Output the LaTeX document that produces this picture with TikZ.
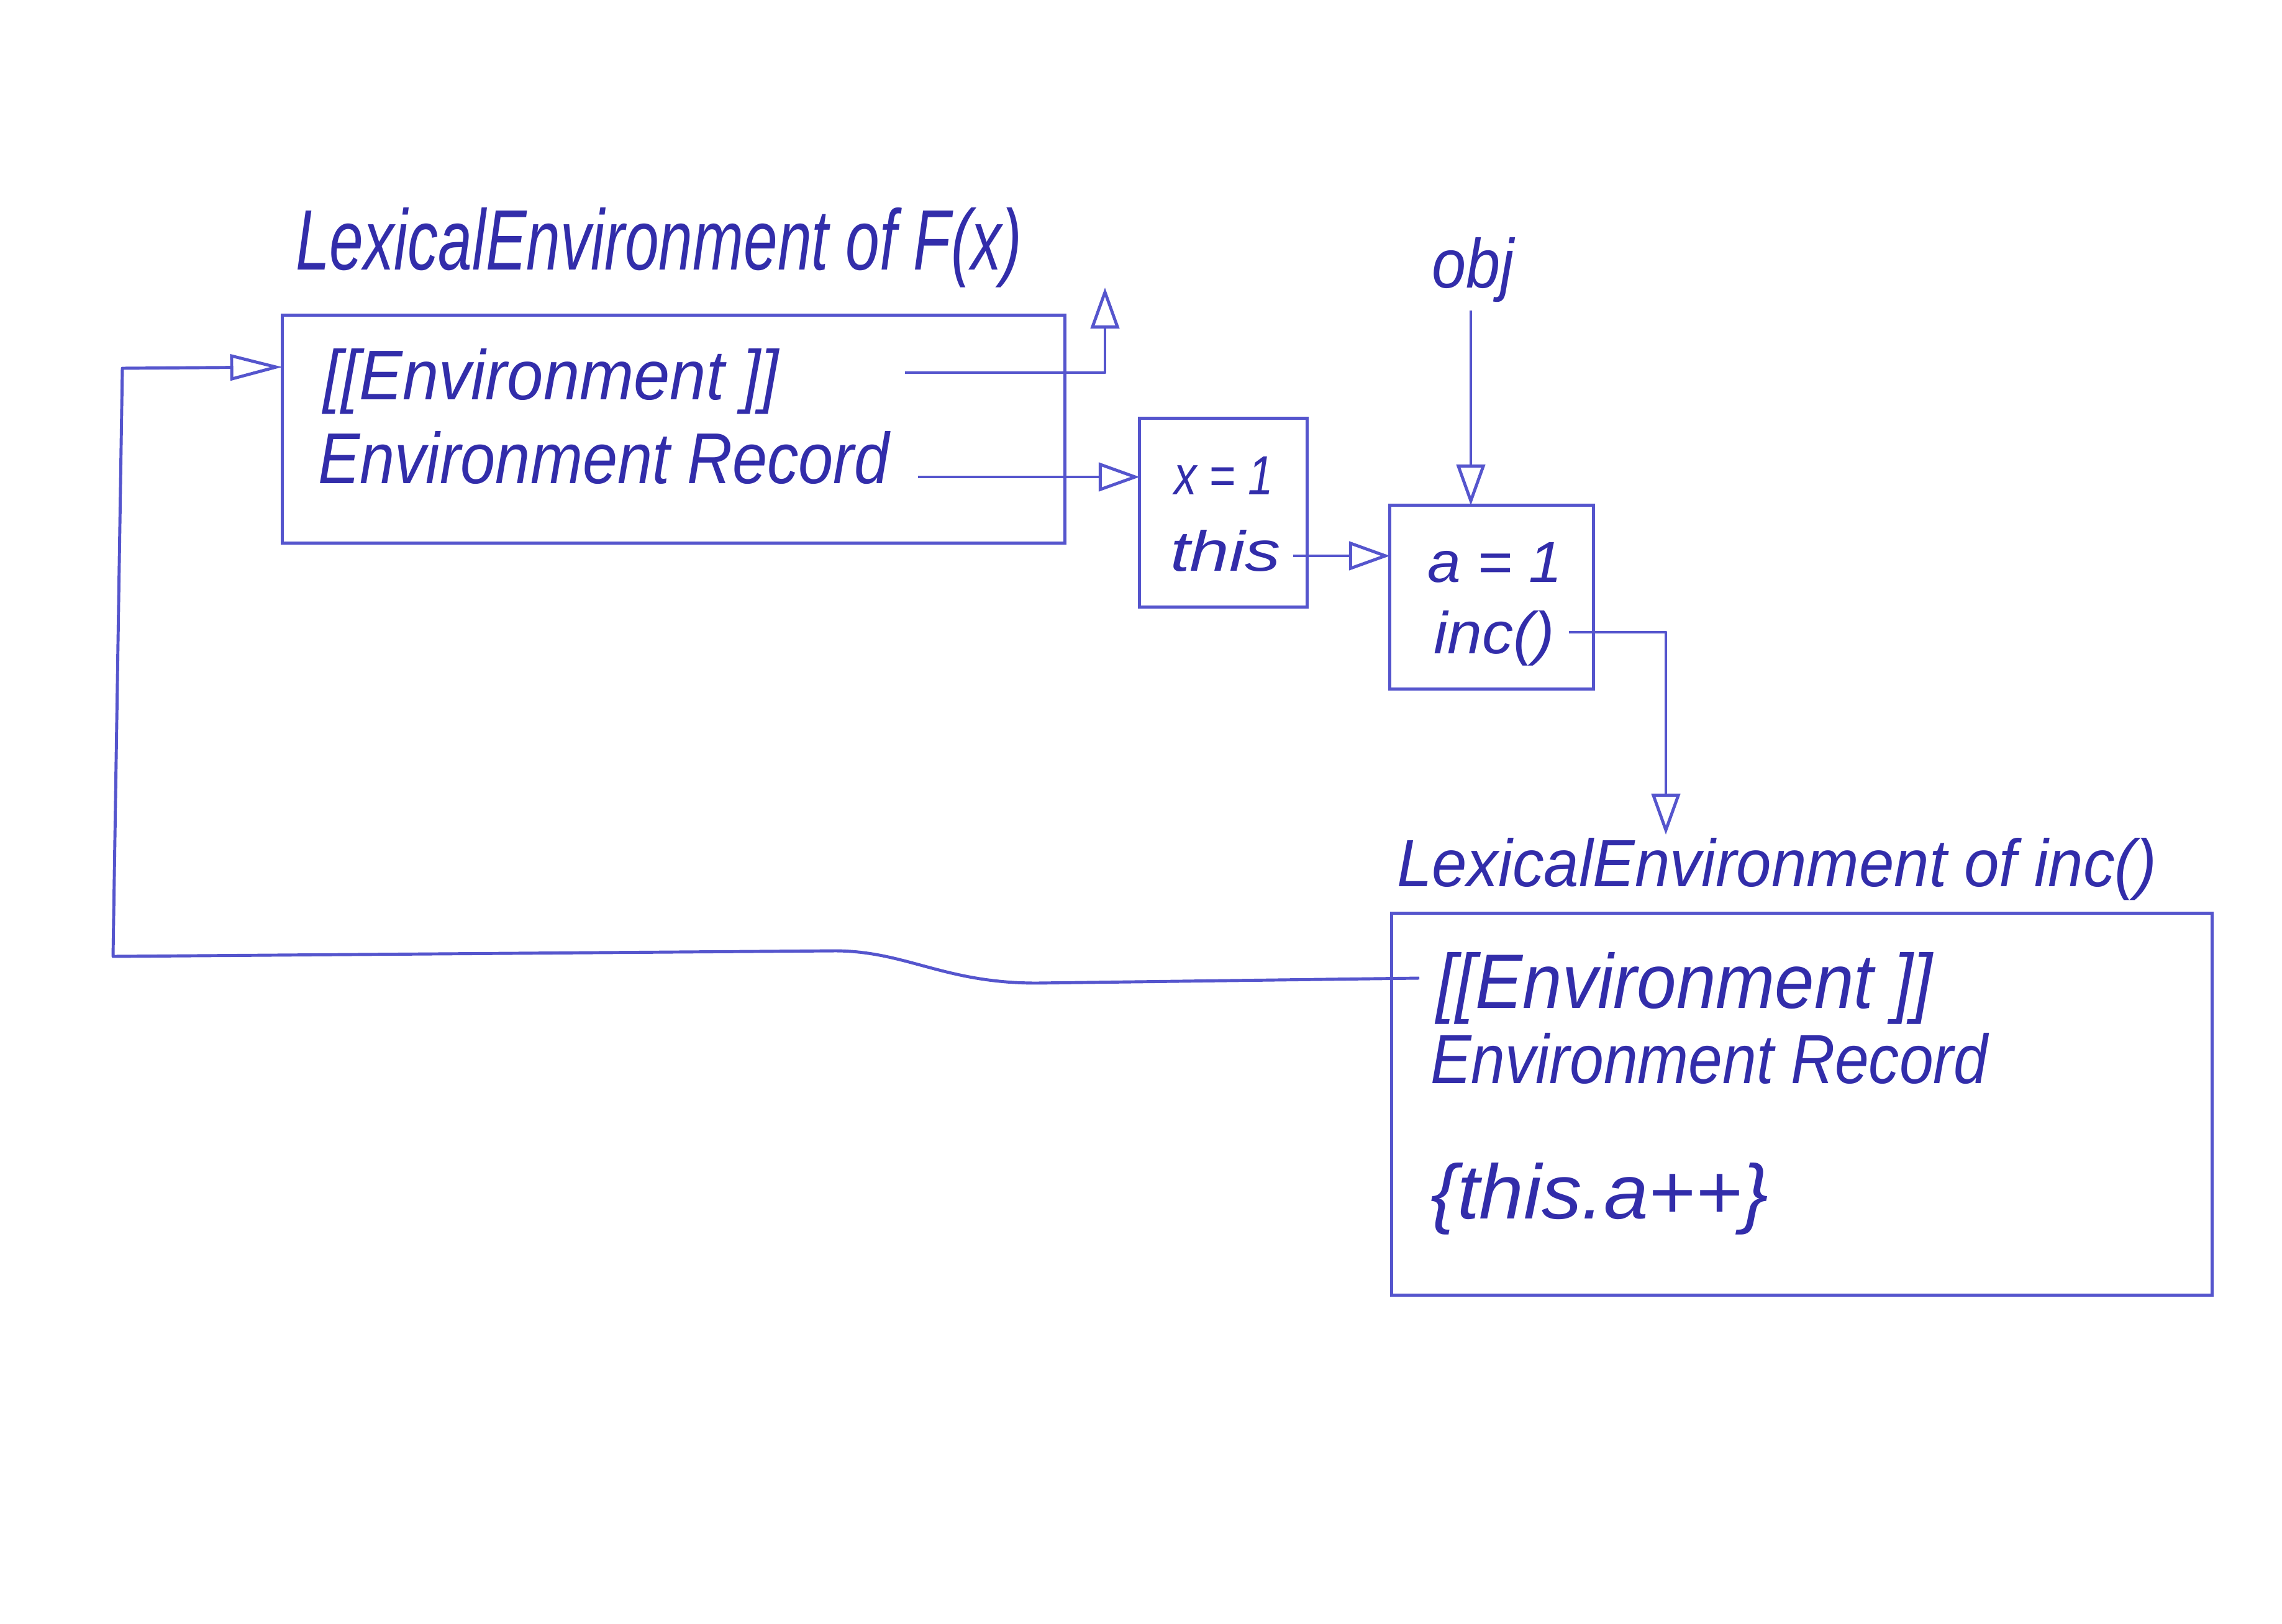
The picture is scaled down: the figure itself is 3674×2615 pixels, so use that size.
\documentclass[tikz,border=0pt]{standalone}
\usepackage{fontspec}
\setmainfont{Liberation Sans}
\usepackage{graphicx}
\usetikzlibrary{arrows.meta}
\definecolor{ink}{RGB}{50,45,170}
\definecolor{pen}{RGB}{85,85,205}
\newcommand\hw[3]{\resizebox{#1cm}{#2cm}{\itshape #3}}
\begin{document}
\begin{tikzpicture}[x=0.01cm,y=-0.01cm,
  box/.style={draw=pen, line width=1.4pt, rectangle, inner sep=0pt, outer sep=0pt},
  txt/.style={inner sep=0pt, outer sep=0pt, anchor=base west, text=ink},
  wire/.style={draw=pen, line width=1.4pt, line join=round},
  arr/.style={wire, -{Triangle[open, length=0.66cm, width=0.46cm, line width=1.4pt]}}]
\useasboundingbox (0,0) rectangle (3674,2615);

% boxes
\node[box, minimum width=12.59cm, minimum height=3.66cm] (le1) at (1084.5,691) {};
\node[box, minimum width=2.69cm, minimum height=3.03cm] (bx) at (1969.5,825.5) {};
\node[box, minimum width=3.27cm, minimum height=2.95cm] (ba) at (2401.5,961.5) {};
\node[box, minimum width=13.20cm, minimum height=6.14cm] (le2) at (2901,1778) {};

% texts
\node[txt] (t1) at (476,434) {\hw{11.69}{1.0}{LexicalEnvironment of F(x)}};
\node[txt] (e1a) at (520,643) {\hw{7.33}{0.82}{[[Environment ]]}};
\node[txt] (e1b) at (512,778) {\hw{9.19}{0.84}{Environment Record}};
\node[txt] (x1) at (1890,796) {\hw{1.60}{0.61}{x = 1}};
\node[txt] (this) at (1884,919) {\hw{1.78}{0.66}{this}};
\node[txt] (a1) at (2298,937) {\hw{2.17}{0.64}{a = 1}};
\node[txt] (inc) at (2308,1052) {\hw{1.95}{0.69}{inc()}};
\node[txt] (obj) at (2305,463) {\hw{1.32}{0.81}{obj}};
\node[txt] (t2) at (2249,1427) {\hw{12.23}{0.78}{LexicalEnvironment of inc()}};
\node[txt] (e2a) at (2312,1623) {\hw{7.99}{0.9}{[[Environment ]]}};
\node[txt] (e2b) at (2303,1744) {\hw{8.97}{0.81}{Environment Record}};
\node[txt] (code) at (2303,1962) {\hw{5.44}{0.9}{\{this.a++\}}};

% free ends
\coordinate (s1) at (1457,600);
\coordinate (u1) at (1779,463);
\coordinate (s2) at (1478,768);
\coordinate (s3) at (2082,895);
\coordinate (s4) at (2368,500);
\coordinate (s5) at (2526,1018);
\coordinate (e5) at (2682,1344);
\coordinate (s6) at (2285,1575);
\coordinate (yin) at (0,591);

% connectors
\draw[arr] (s1) -| (u1);
\draw[arr] (s2) -- (s2 -| bx.west);
\draw[arr] (s3) -- (s3 -| ba.west);
\draw[arr] (s4) -- (s4 |- ba.north);
\draw[arr] (s5) -| (e5);
\draw[wire, -{Triangle[open, length=0.84cm, width=0.42cm, line width=1.4pt]}]
  (s6) -- (1669,1583) .. controls (1520,1583) and (1460,1532) .. (1346,1531)
  -- (182,1540) -- (197,593) -- (le1.west |- yin);
\end{tikzpicture}
\end{document}
